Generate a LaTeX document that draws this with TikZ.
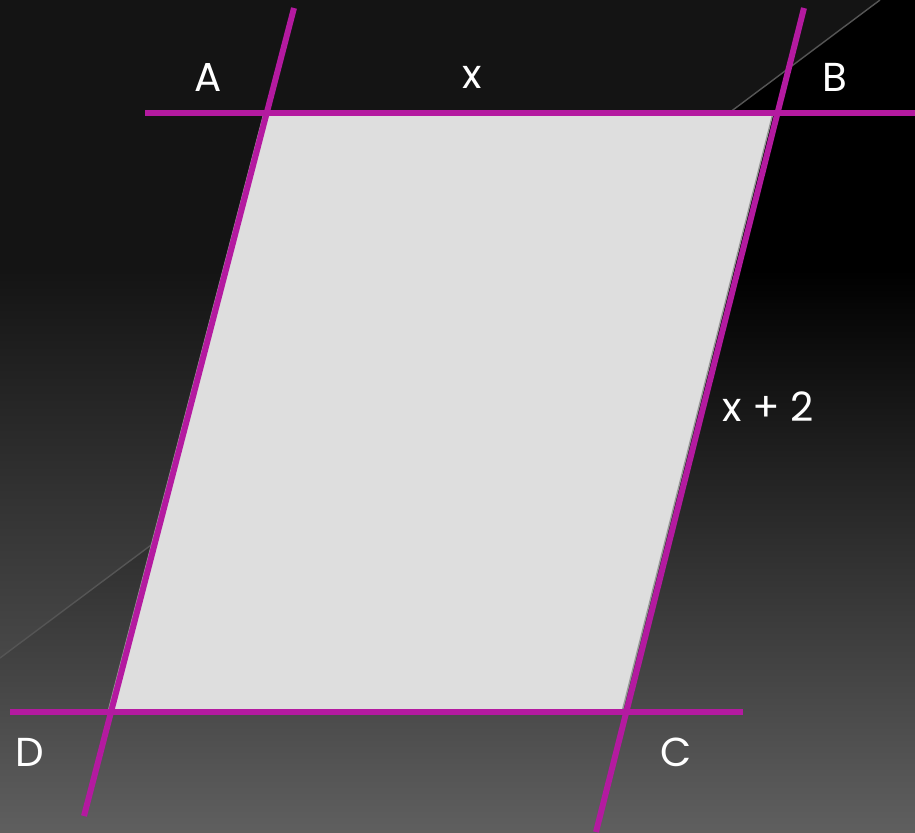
\documentclass[tikz,border=0pt]{standalone}
\usepackage{fontspec}
\setmainfont{Poppins}
\definecolor{edgemag}{RGB}{180,26,160}
\definecolor{quadfill}{RGB}{222,222,222}
\definecolor{bgtop}{RGB}{20,20,20}
\definecolor{bgbot}{RGB}{95,95,95}
\definecolor{bgdark}{RGB}{0,0,0}
\definecolor{rayline}{RGB}{85,85,85}
\pgfdeclareverticalshading{backleft}{100bp}{color(0bp)=(bgbot); color(25bp)=(bgbot);
  color(58.8bp)=(bgtop); color(100bp)=(bgtop)}
\pgfdeclareverticalshading{backright}{100bp}{color(0bp)=(bgbot); color(25bp)=(bgbot);
  color(58.8bp)=(bgdark); color(100bp)=(bgdark)}
\tikzset{
  side/.style={edgemag, line width=3.4pt},
  vlabel/.style={white, font=\fontsize{23}{23}\selectfont, inner sep=0pt}
}
\begin{document}
\begin{tikzpicture}[x=0.02cm, y=-0.02cm]
            \useasboundingbox (0,0) rectangle (915,832);
            \shade[shading=backleft] (0,0) rectangle (915,832);
            \shade[shading=backright]
                (0,658) -- (880,0) -- (915,0) -- (915,832) -- (0,832) -- cycle;
            \draw[rayline, line width=0.8pt] (0,658) -- (880,0);

            \coordinate (A) at (267,113);
            \coordinate (B) at (777,113);
            \coordinate (C) at (626,712);
            \coordinate (D) at (111,712);

            \filldraw[fill=quadfill, draw=gray!80, line width=0.8pt]
                (264,113) -- (773,113) -- (622,712) -- (108,712) -- cycle;

            \coordinate (topL) at (145,113);
            \coordinate (topR) at (915,113);
            \coordinate (botL) at (10,712);
            \coordinate (botR) at (743,712);
            \coordinate (leftT) at (294,8);
            \coordinate (leftB) at (84,816);
            \coordinate (rightT) at (804,8);
            \coordinate (rightB) at (596,832);

            \draw[side] (topL) -- (topR);
            \draw[side] (botL) -- (botR);
            \draw[side] (leftT) -- (leftB);
            \draw[side] (rightT) -- (rightB);

            \node[vlabel] (labA) at (208,77) {A};
            \node[vlabel] (labB) at (835,77) {B};
            \node[vlabel] (labC) at (676,752) {C};
            \node[vlabel] (labD) at (30,752) {D};
            \node[vlabel] (labx) at (472,77) {x};
            \node[vlabel] (labxx) at (768,407) {x + 2};
        \end{tikzpicture}
\end{document}
